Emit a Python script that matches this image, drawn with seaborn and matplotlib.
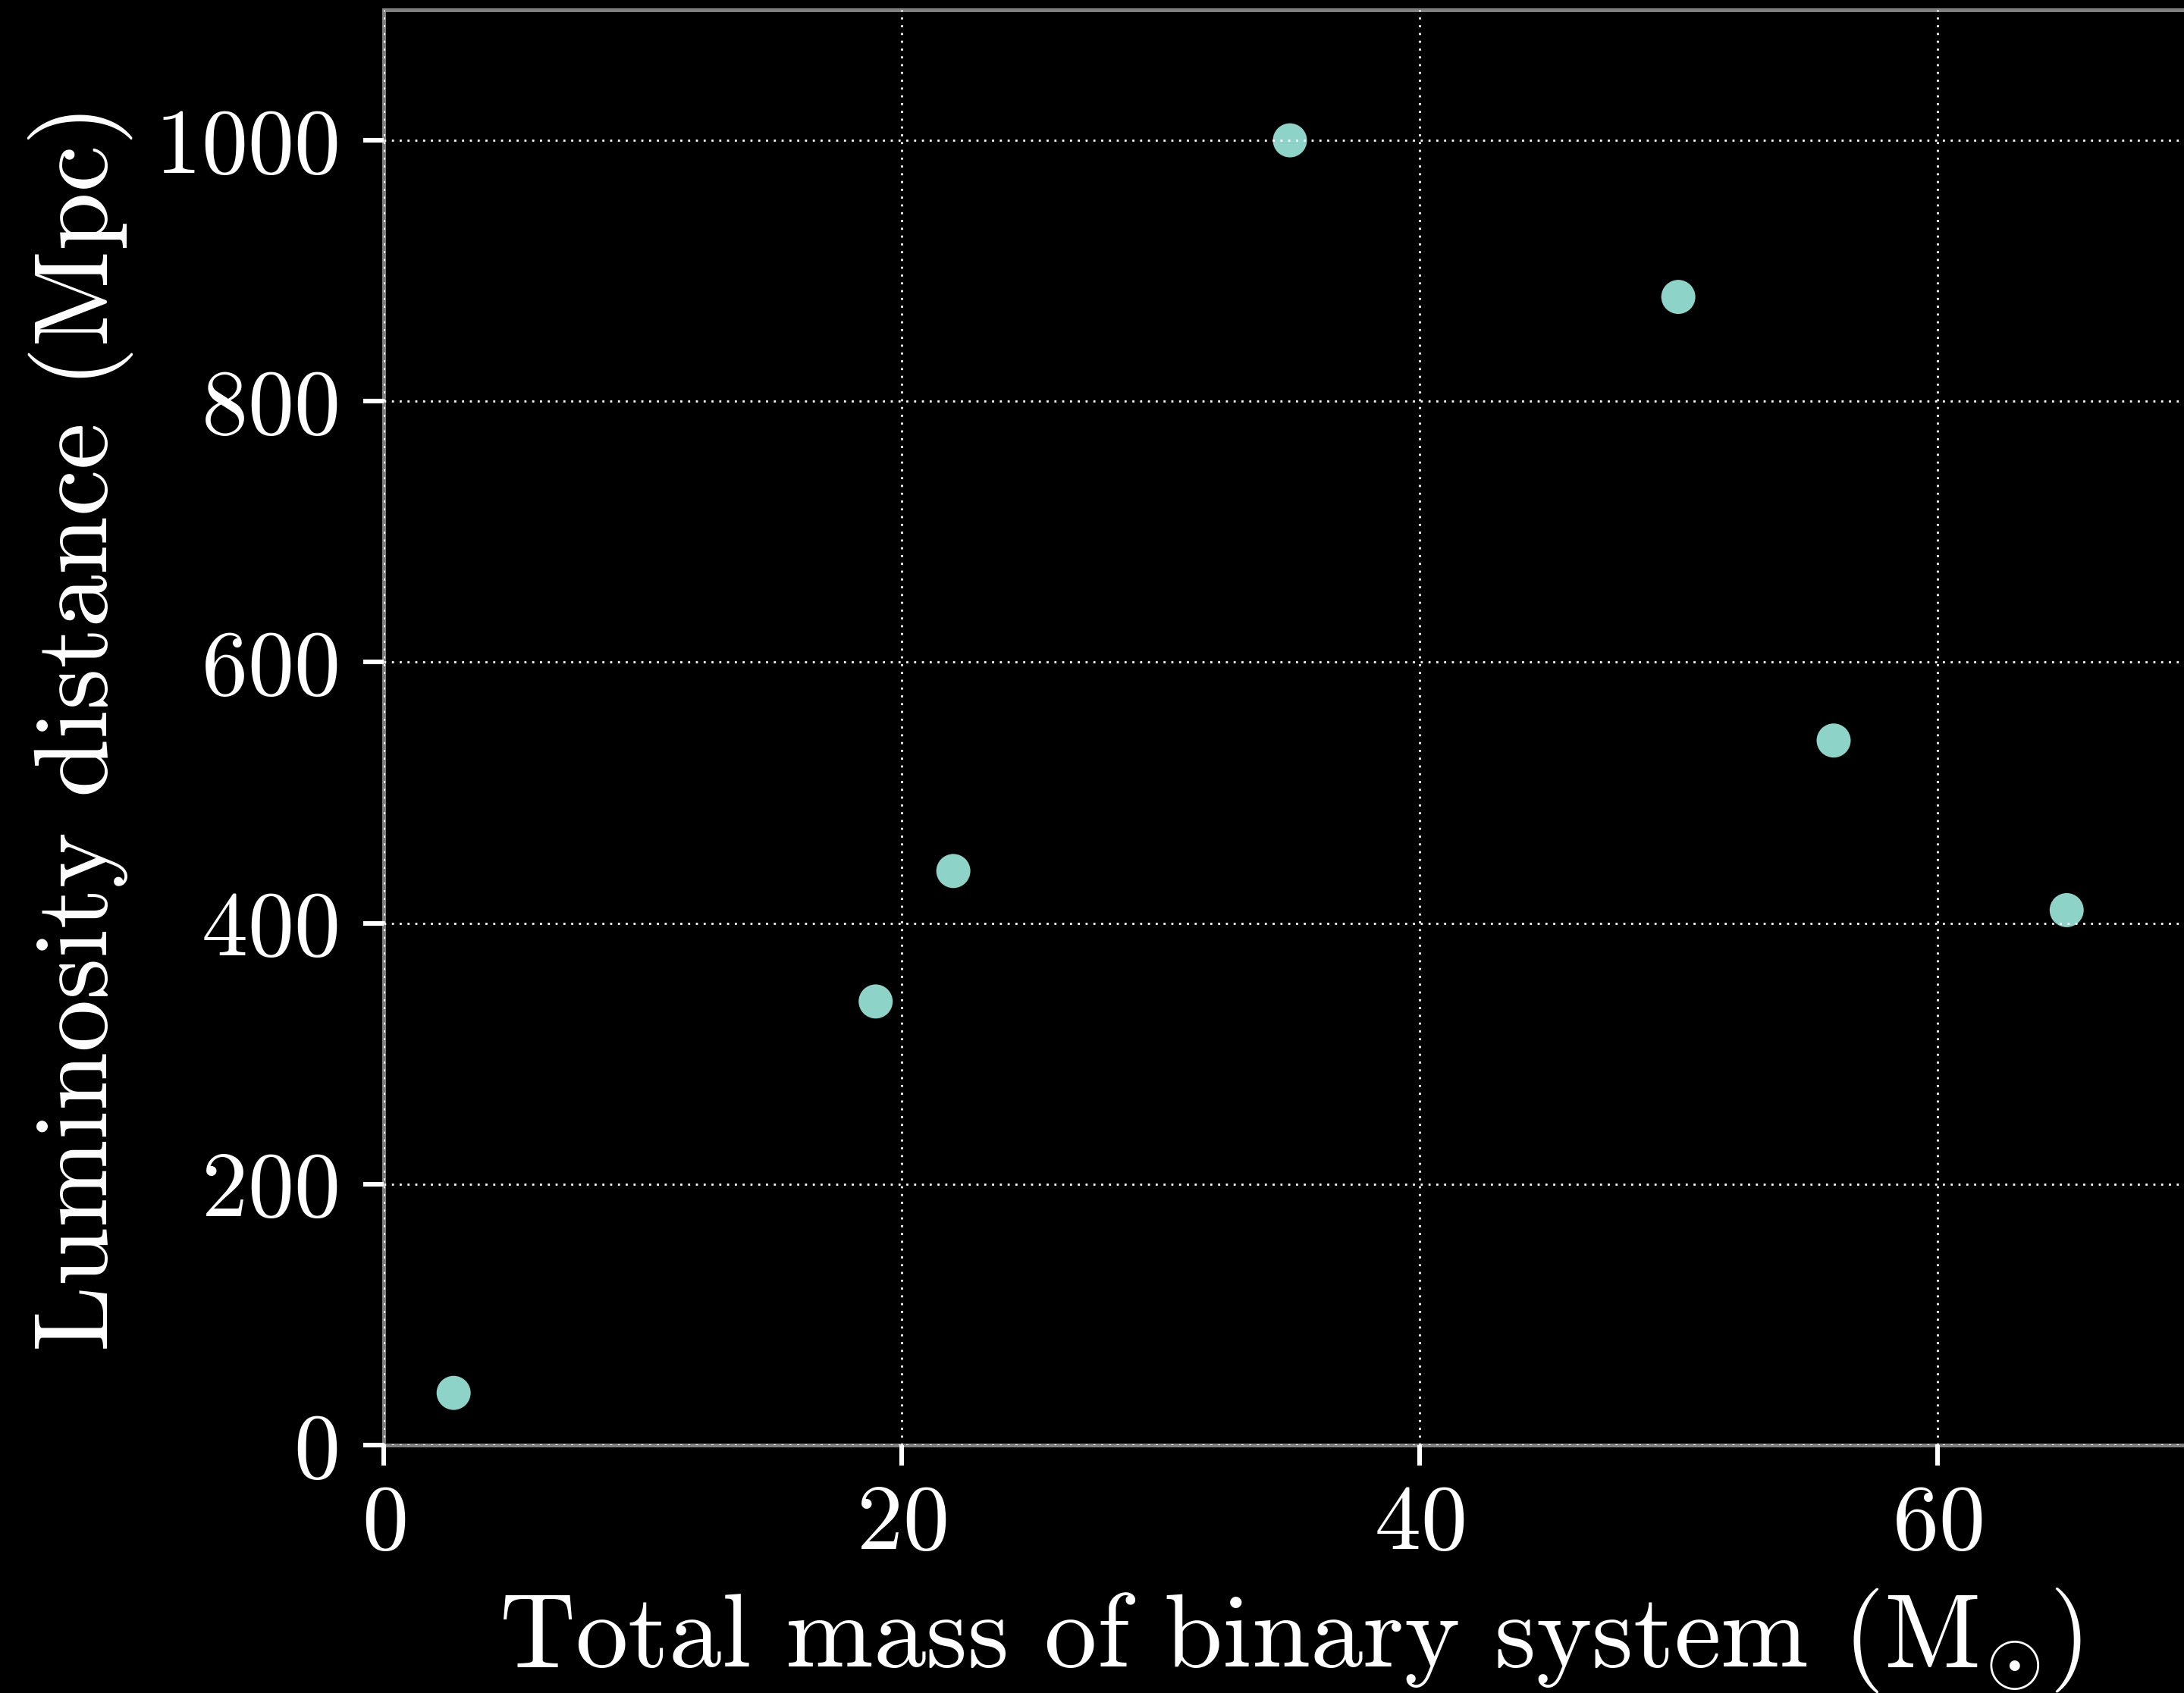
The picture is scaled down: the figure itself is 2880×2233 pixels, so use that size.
import matplotlib
matplotlib.use("Agg")
import matplotlib.pyplot as plt
import seaborn as sns
import pandas as pd

# Data
total_mass = [2.7, 19, 22, 35, 50, 56, 65]
lum_distance = [40, 340, 440, 1000, 880, 540, 410]
x_ticks = [0, 20, 40, 60]
y_ticks = [0, 200, 400, 600, 800, 1000]

sns.set_theme(style="dark")
plt.rcParams.update({
    "font.family": ["cmr10", "DejaVu Serif"],
    "mathtext.fontset": "cm",
    "axes.formatter.use_mathtext": True,
    "axes.unicode_minus": False,
    "figure.facecolor": "black",
    "axes.facecolor": "black",
    "savefig.facecolor": "black",
    "text.color": "white",
    "axes.labelcolor": "white",
    "xtick.color": "white",
    "ytick.color": "white",
})

df = pd.DataFrame({"mass": total_mass, "dist": lum_distance})

dpi = 200
fig = plt.figure(figsize=(2880 / dpi, 2233 / dpi), dpi=dpi)
ax = fig.add_axes([506 / 2880, (2233 - 1906) / 2233, 2390 / 2880, (1906 - 13) / 2233])

sns.scatterplot(data=df, x="mass", y="dist", ax=ax, color="#8dd3c7",
                s=262, edgecolor="none", linewidth=0, zorder=1)

ax.set_xlim(0, 70)
ax.set_ylim(0, 1100)
ax.set_xticks(x_ticks)
ax.set_yticks(y_ticks)

ax.set_axisbelow(False)
ax.grid(True, color="white", linestyle=(0, (1, 2.7)), linewidth=1.0)

for side in ["left", "top", "bottom", "right"]:
    ax.spines[side].set_visible(True)
    ax.spines[side].set_color("#808080")
    ax.spines[side].set_linewidth(1.8)

ax.tick_params(axis="both", which="major", direction="out", length=9.7, width=2.2,
               color="white", labelsize=44, bottom=True, left=True)
ax.tick_params(axis="x", pad=9)
ax.tick_params(axis="y", pad=12)

ax.set_xlabel(r"Total mass of binary system (M$_{\odot}$)", fontsize=50, labelpad=9)
ax.set_ylabel("Luminosity distance (Mpc)", fontsize=50, labelpad=10)

fig.savefig("out.png", dpi=dpi, facecolor="black")
